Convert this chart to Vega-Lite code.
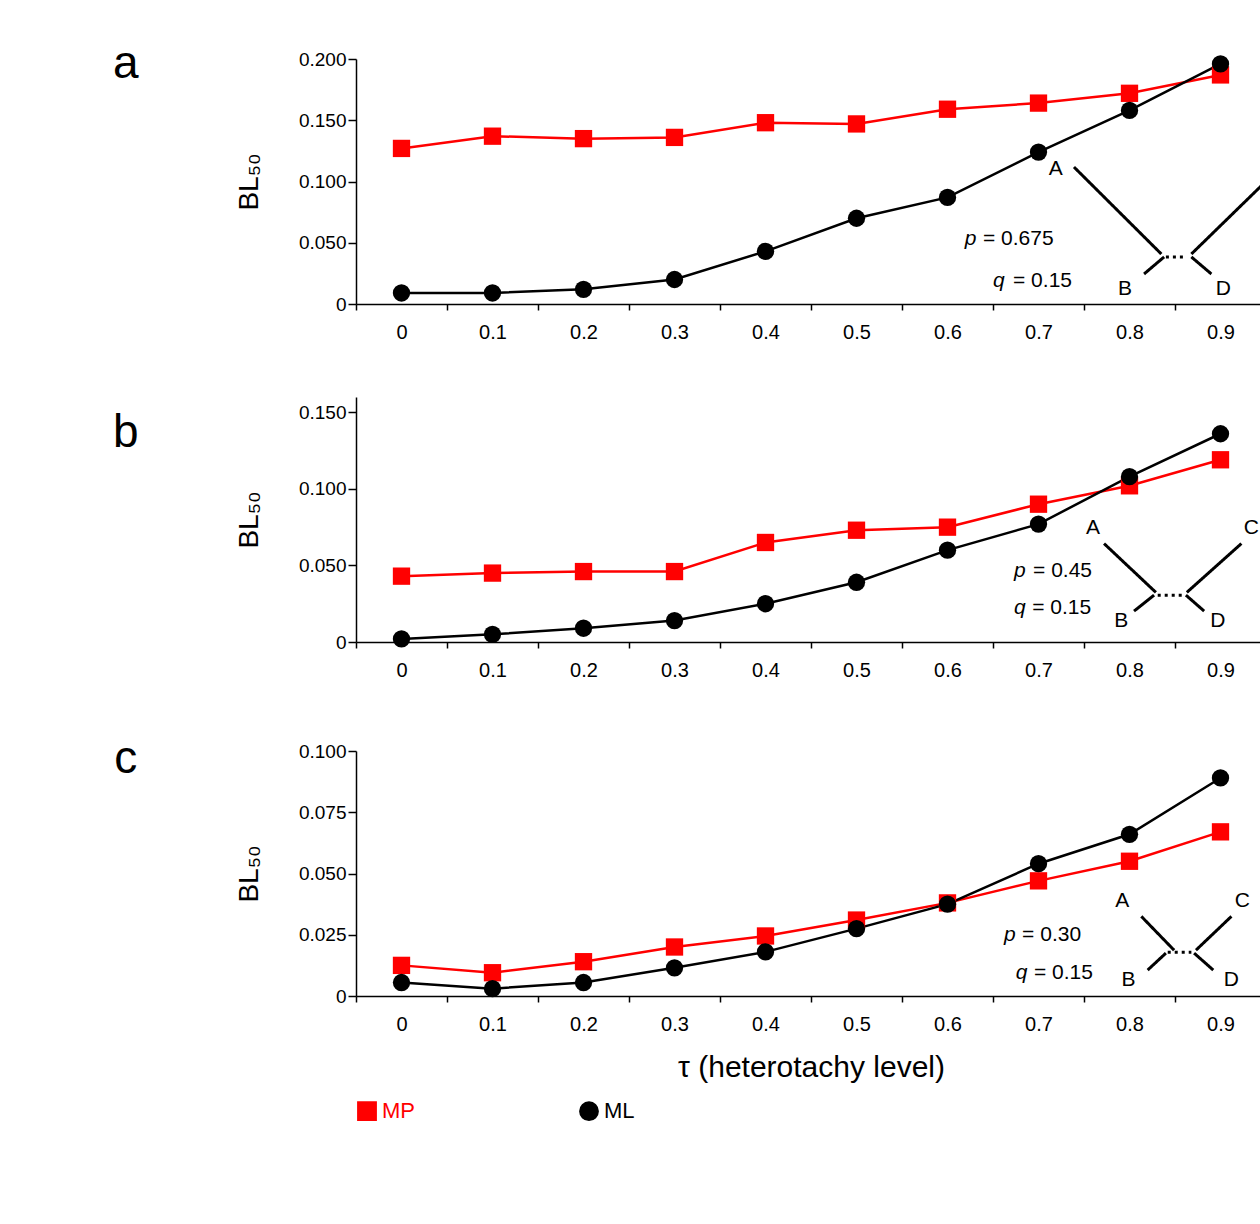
{
  "$schema": "https://vega.github.io/schema/vega-lite/v6.json",
  "background": "white",
  "padding": {"left": 112, "top": 40, "right": 60, "bottom": 10},
  "config": {
    "font": "Liberation Sans",
    "view": {"stroke": null},
    "axis": {"labelFont": "Liberation Sans", "titleFont": "Liberation Sans", "titleFontWeight": "normal", "domainColor": "black", "tickColor": "black", "labelColor": "black", "titleColor": "black", "grid": false, "domainWidth": 1.5, "tickWidth": 1.5},
    "legend": {"orient": "bottom", "direction": "horizontal", "title": null, "labelFontSize": 22, "symbolSize": 300, "columnPadding": 160, "symbolStrokeWidth": 2.5, "labelFont": "Liberation Sans"},
    "concat": {"spacing": 55}
  },
  "datasets": {
    "pts": [
      {"p": "a", "tau": 0, "s": "MP", "v": 0.127}, {"p": "a", "tau": 0.1, "s": "MP", "v": 0.137}, {"p": "a", "tau": 0.2, "s": "MP", "v": 0.135}, {"p": "a", "tau": 0.3, "s": "MP", "v": 0.136}, {"p": "a", "tau": 0.4, "s": "MP", "v": 0.148}, {"p": "a", "tau": 0.5, "s": "MP", "v": 0.147}, {"p": "a", "tau": 0.6, "s": "MP", "v": 0.159}, {"p": "a", "tau": 0.7, "s": "MP", "v": 0.164}, {"p": "a", "tau": 0.8, "s": "MP", "v": 0.172}, {"p": "a", "tau": 0.9, "s": "MP", "v": 0.187},
      {"p": "a", "tau": 0, "s": "ML", "v": 0.009}, {"p": "a", "tau": 0.1, "s": "ML", "v": 0.009}, {"p": "a", "tau": 0.2, "s": "ML", "v": 0.012}, {"p": "a", "tau": 0.3, "s": "ML", "v": 0.020}, {"p": "a", "tau": 0.4, "s": "ML", "v": 0.043}, {"p": "a", "tau": 0.5, "s": "ML", "v": 0.070}, {"p": "a", "tau": 0.6, "s": "ML", "v": 0.087}, {"p": "a", "tau": 0.7, "s": "ML", "v": 0.124}, {"p": "a", "tau": 0.8, "s": "ML", "v": 0.158}, {"p": "a", "tau": 0.9, "s": "ML", "v": 0.196},
      {"p": "b", "tau": 0, "s": "MP", "v": 0.043}, {"p": "b", "tau": 0.1, "s": "MP", "v": 0.045}, {"p": "b", "tau": 0.2, "s": "MP", "v": 0.046}, {"p": "b", "tau": 0.3, "s": "MP", "v": 0.046}, {"p": "b", "tau": 0.4, "s": "MP", "v": 0.065}, {"p": "b", "tau": 0.5, "s": "MP", "v": 0.073}, {"p": "b", "tau": 0.6, "s": "MP", "v": 0.075}, {"p": "b", "tau": 0.7, "s": "MP", "v": 0.090}, {"p": "b", "tau": 0.8, "s": "MP", "v": 0.102}, {"p": "b", "tau": 0.9, "s": "MP", "v": 0.119},
      {"p": "b", "tau": 0, "s": "ML", "v": 0.002}, {"p": "b", "tau": 0.1, "s": "ML", "v": 0.005}, {"p": "b", "tau": 0.2, "s": "ML", "v": 0.009}, {"p": "b", "tau": 0.3, "s": "ML", "v": 0.014}, {"p": "b", "tau": 0.4, "s": "ML", "v": 0.025}, {"p": "b", "tau": 0.5, "s": "ML", "v": 0.039}, {"p": "b", "tau": 0.6, "s": "ML", "v": 0.060}, {"p": "b", "tau": 0.7, "s": "ML", "v": 0.077}, {"p": "b", "tau": 0.8, "s": "ML", "v": 0.108}, {"p": "b", "tau": 0.9, "s": "ML", "v": 0.136},
      {"p": "c", "tau": 0, "s": "MP", "v": 0.0125}, {"p": "c", "tau": 0.1, "s": "MP", "v": 0.0095}, {"p": "c", "tau": 0.2, "s": "MP", "v": 0.014}, {"p": "c", "tau": 0.3, "s": "MP", "v": 0.020}, {"p": "c", "tau": 0.4, "s": "MP", "v": 0.0245}, {"p": "c", "tau": 0.5, "s": "MP", "v": 0.031}, {"p": "c", "tau": 0.6, "s": "MP", "v": 0.038}, {"p": "c", "tau": 0.7, "s": "MP", "v": 0.047}, {"p": "c", "tau": 0.8, "s": "MP", "v": 0.055}, {"p": "c", "tau": 0.9, "s": "MP", "v": 0.067},
      {"p": "c", "tau": 0, "s": "ML", "v": 0.0055}, {"p": "c", "tau": 0.1, "s": "ML", "v": 0.003}, {"p": "c", "tau": 0.2, "s": "ML", "v": 0.0055}, {"p": "c", "tau": 0.3, "s": "ML", "v": 0.0115}, {"p": "c", "tau": 0.4, "s": "ML", "v": 0.018}, {"p": "c", "tau": 0.5, "s": "ML", "v": 0.0275}, {"p": "c", "tau": 0.6, "s": "ML", "v": 0.0375}, {"p": "c", "tau": 0.7, "s": "ML", "v": 0.054}, {"p": "c", "tau": 0.8, "s": "ML", "v": 0.066}, {"p": "c", "tau": 0.9, "s": "ML", "v": 0.089}
    ],
    "tree": [
      {"p": "a", "x": 0.739, "y": 0.1118, "x2": 0.835, "y2": 0.0408, "d": "s"},
      {"p": "a", "x": 0.966, "y": 0.1118, "x2": 0.868, "y2": 0.0408, "d": "s"},
      {"p": "a", "x": 0.816, "y": 0.0245, "x2": 0.838, "y2": 0.0384, "d": "s"},
      {"p": "a", "x": 0.868, "y": 0.0384, "x2": 0.890, "y2": 0.0245, "d": "s"},
      {"p": "a", "x": 0.840, "y": 0.0384, "x2": 0.862, "y2": 0.0384, "d": "d"},
      {"p": "b", "x": 0.772, "y": 0.0643, "x2": 0.829, "y2": 0.0324, "d": "s"},
      {"p": "b", "x": 0.923, "y": 0.0643, "x2": 0.863, "y2": 0.0324, "d": "s"},
      {"p": "b", "x": 0.805, "y": 0.0202, "x2": 0.827, "y2": 0.0306, "d": "s"},
      {"p": "b", "x": 0.862, "y": 0.0306, "x2": 0.882, "y2": 0.0202, "d": "s"},
      {"p": "b", "x": 0.831, "y": 0.0306, "x2": 0.859, "y2": 0.0306, "d": "d"},
      {"p": "c", "x": 0.813, "y": 0.0325, "x2": 0.849, "y2": 0.0187, "d": "s"},
      {"p": "c", "x": 0.912, "y": 0.0325, "x2": 0.873, "y2": 0.0187, "d": "s"},
      {"p": "c", "x": 0.820, "y": 0.0106, "x2": 0.840, "y2": 0.0175, "d": "s"},
      {"p": "c", "x": 0.871, "y": 0.0175, "x2": 0.892, "y2": 0.0106, "d": "s"},
      {"p": "c", "x": 0.842, "y": 0.0179, "x2": 0.868, "y2": 0.0179, "d": "d"}
    ],
    "labels": [
      {"p": "a", "x": -0.303, "y": 0.196, "t": "a", "k": "big"},
      {"p": "a", "x": 0.719, "y": 0.110, "t": "A", "k": "n"}, {"p": "a", "x": 0.985, "y": 0.117, "t": "C", "k": "n"},
      {"p": "a", "x": 0.795, "y": 0.012, "t": "B", "k": "n"}, {"p": "a", "x": 0.903, "y": 0.012, "t": "D", "k": "n"},
      {"p": "a", "x": 0.619, "y": 0.053, "t": "p", "k": "i"}, {"p": "a", "x": 0.639, "y": 0.053, "t": "= 0.675", "k": "l"},
      {"p": "a", "x": 0.650, "y": 0.019, "t": "q", "k": "i"}, {"p": "a", "x": 0.672, "y": 0.019, "t": "= 0.15", "k": "l"},
      {"p": "b", "x": -0.303, "y": 0.1367, "t": "b", "k": "big"},
      {"p": "b", "x": 0.760, "y": 0.0747, "t": "A", "k": "n"}, {"p": "b", "x": 0.934, "y": 0.0747, "t": "C", "k": "n"},
      {"p": "b", "x": 0.791, "y": 0.0135, "t": "B", "k": "n"}, {"p": "b", "x": 0.897, "y": 0.0135, "t": "D", "k": "n"},
      {"p": "b", "x": 0.673, "y": 0.0465, "t": "p", "k": "i"}, {"p": "b", "x": 0.694, "y": 0.0465, "t": "= 0.45", "k": "l"},
      {"p": "b", "x": 0.673, "y": 0.022, "t": "q", "k": "i"}, {"p": "b", "x": 0.693, "y": 0.022, "t": "= 0.15", "k": "l"},
      {"p": "c", "x": -0.303, "y": 0.0968, "t": "c", "k": "big"},
      {"p": "c", "x": 0.792, "y": 0.0386, "t": "A", "k": "n"}, {"p": "c", "x": 0.924, "y": 0.0386, "t": "C", "k": "n"},
      {"p": "c", "x": 0.799, "y": 0.0065, "t": "B", "k": "n"}, {"p": "c", "x": 0.912, "y": 0.0065, "t": "D", "k": "n"},
      {"p": "c", "x": 0.662, "y": 0.0248, "t": "p", "k": "i"}, {"p": "c", "x": 0.682, "y": 0.0248, "t": "= 0.30", "k": "l"},
      {"p": "c", "x": 0.675, "y": 0.0093, "t": "q", "k": "i"}, {"p": "c", "x": 0.695, "y": 0.0093, "t": "= 0.15", "k": "l"}
    ]
  },
  "vconcat": [
    {
      "width": 910, "height": 245,
      "layer": [
        {
          "data": {"name": "pts"}, "transform": [{"filter": "datum.p == 'a'"}],
          "mark": {"type": "line", "strokeWidth": 2.5},
          "encoding": {
            "x": {"field": "tau", "type": "quantitative", "scale": {"domain": [-0.05, 0.95], "nice": false, "zero": false}, "axis": {"title": null, "values": [-0.05, 0.05, 0.15, 0.25, 0.35, 0.45, 0.55, 0.65, 0.75, 0.85, 0.95], "labelExpr": "datum.value > 0.9 ? '' : '' + (round((datum.value + 0.05) * 10) / 10)", "labelOffset": 45.5, "labelFlush": false, "labelOverlap": false, "labelFontSize": 20, "labelPadding": 12, "tickSize": 6}},
            "y": {"field": "v", "type": "quantitative", "scale": {"domain": [0, 0.2]}, "axis": {"values": [0, 0.05, 0.1, 0.15, 0.2], "labelExpr": "datum.value == 0 ? '0' : format(datum.value, '.3f')", "labelFontSize": 19, "title": "BL₅₀", "titleFontSize": 28, "titlePadding": 35, "tickSize": 8}},
            "color": {"field": "s", "type": "nominal", "scale": {"domain": ["MP", "ML"], "range": ["#ff0000", "#000000"]}},
            "shape": {"field": "s", "type": "nominal", "scale": {"domain": ["MP", "ML"], "range": ["square", "circle"]}}
          }
        },
        {
          "data": {"name": "pts"}, "transform": [{"filter": "datum.p == 'a'"}],
          "mark": {"type": "point", "filled": true, "size": 300, "opacity": 1},
          "encoding": {"x": {"field": "tau", "type": "quantitative"}, "y": {"field": "v", "type": "quantitative"}, "color": {"field": "s", "type": "nominal"}, "shape": {"field": "s", "type": "nominal"}}
        },
        {
          "data": {"name": "tree"}, "transform": [{"filter": "datum.p == 'a'"}],
          "mark": {"type": "rule", "strokeWidth": 3, "color": "black", "clip": false},
          "encoding": {
            "x": {"field": "x", "type": "quantitative"}, "y": {"field": "y", "type": "quantitative"},
            "x2": {"field": "x2"}, "y2": {"field": "y2"},
            "strokeDash": {"field": "d", "type": "nominal", "scale": {"domain": ["s", "d"], "range": [[1, 0], [3, 4]]}, "legend": null}
          }
        },
        {
          "data": {"name": "labels"}, "transform": [{"filter": "datum.p == 'a' && datum.k == 'n'"}],
          "mark": {"type": "text", "fontSize": 21, "clip": false},
          "encoding": {"x": {"field": "x", "type": "quantitative"}, "y": {"field": "y", "type": "quantitative"}, "text": {"field": "t"}}
        },
        {
          "data": {"name": "labels"}, "transform": [{"filter": "datum.p == 'a' && datum.k == 'i'"}],
          "mark": {"type": "text", "fontSize": 21, "fontStyle": "italic", "align": "left"},
          "encoding": {"x": {"field": "x", "type": "quantitative"}, "y": {"field": "y", "type": "quantitative"}, "text": {"field": "t"}}
        },
        {
          "data": {"name": "labels"}, "transform": [{"filter": "datum.p == 'a' && datum.k == 'l'"}],
          "mark": {"type": "text", "fontSize": 21, "align": "left"},
          "encoding": {"x": {"field": "x", "type": "quantitative"}, "y": {"field": "y", "type": "quantitative"}, "text": {"field": "t"}}
        },
        {
          "data": {"name": "labels"}, "transform": [{"filter": "datum.p == 'a' && datum.k == 'big'"}],
          "mark": {"type": "text", "fontSize": 46, "clip": false},
          "encoding": {"x": {"field": "x", "type": "quantitative"}, "y": {"field": "y", "type": "quantitative"}, "text": {"field": "t"}}
        }
      ]
    },
    {
      "width": 910, "height": 245,
      "layer": [
        {
          "data": {"name": "pts"}, "transform": [{"filter": "datum.p == 'b'"}],
          "mark": {"type": "line", "strokeWidth": 2.5},
          "encoding": {
            "x": {"field": "tau", "type": "quantitative", "scale": {"domain": [-0.05, 0.95], "nice": false, "zero": false}, "axis": {"title": null, "values": [-0.05, 0.05, 0.15, 0.25, 0.35, 0.45, 0.55, 0.65, 0.75, 0.85, 0.95], "labelExpr": "datum.value > 0.9 ? '' : '' + (round((datum.value + 0.05) * 10) / 10)", "labelOffset": 45.5, "labelFlush": false, "labelOverlap": false, "labelFontSize": 20, "labelPadding": 12, "tickSize": 6}},
            "y": {"field": "v", "type": "quantitative", "scale": {"domain": [0, 0.15]}, "axis": {"values": [0, 0.05, 0.1, 0.15], "labelExpr": "datum.value == 0 ? '0' : format(datum.value, '.3f')", "labelFontSize": 19, "title": "BL₅₀", "titleFontSize": 28, "titlePadding": 35, "tickSize": 8}},
            "color": {"field": "s", "type": "nominal", "scale": {"domain": ["MP", "ML"], "range": ["#ff0000", "#000000"]}},
            "shape": {"field": "s", "type": "nominal", "scale": {"domain": ["MP", "ML"], "range": ["square", "circle"]}}
          }
        },
        {
          "data": {"name": "pts"}, "transform": [{"filter": "datum.p == 'b'"}],
          "mark": {"type": "point", "filled": true, "size": 300, "opacity": 1},
          "encoding": {"x": {"field": "tau", "type": "quantitative"}, "y": {"field": "v", "type": "quantitative"}, "color": {"field": "s", "type": "nominal"}, "shape": {"field": "s", "type": "nominal"}}
        },
        {
          "data": {"name": "tree"}, "transform": [{"filter": "datum.p == 'b'"}],
          "mark": {"type": "rule", "strokeWidth": 3, "color": "black", "clip": false},
          "encoding": {
            "x": {"field": "x", "type": "quantitative"}, "y": {"field": "y", "type": "quantitative"},
            "x2": {"field": "x2"}, "y2": {"field": "y2"},
            "strokeDash": {"field": "d", "type": "nominal", "scale": {"domain": ["s", "d"], "range": [[1, 0], [3, 4]]}, "legend": null}
          }
        },
        {
          "data": {"name": "labels"}, "transform": [{"filter": "datum.p == 'b' && datum.k == 'n'"}],
          "mark": {"type": "text", "fontSize": 21, "clip": false},
          "encoding": {"x": {"field": "x", "type": "quantitative"}, "y": {"field": "y", "type": "quantitative"}, "text": {"field": "t"}}
        },
        {
          "data": {"name": "labels"}, "transform": [{"filter": "datum.p == 'b' && datum.k == 'i'"}],
          "mark": {"type": "text", "fontSize": 21, "fontStyle": "italic", "align": "left"},
          "encoding": {"x": {"field": "x", "type": "quantitative"}, "y": {"field": "y", "type": "quantitative"}, "text": {"field": "t"}}
        },
        {
          "data": {"name": "labels"}, "transform": [{"filter": "datum.p == 'b' && datum.k == 'l'"}],
          "mark": {"type": "text", "fontSize": 21, "align": "left"},
          "encoding": {"x": {"field": "x", "type": "quantitative"}, "y": {"field": "y", "type": "quantitative"}, "text": {"field": "t"}}
        },
        {
          "data": {"name": "labels"}, "transform": [{"filter": "datum.p == 'b' && datum.k == 'big'"}],
          "mark": {"type": "text", "fontSize": 46, "clip": false},
          "encoding": {"x": {"field": "x", "type": "quantitative"}, "y": {"field": "y", "type": "quantitative"}, "text": {"field": "t"}}
        }
      ]
    },
    {
      "width": 910, "height": 245,
      "layer": [
        {
          "data": {"name": "pts"}, "transform": [{"filter": "datum.p == 'c'"}],
          "mark": {"type": "line", "strokeWidth": 2.5},
          "encoding": {
            "x": {"field": "tau", "type": "quantitative", "scale": {"domain": [-0.05, 0.95], "nice": false, "zero": false}, "axis": {"title": "τ (heterotachy level)", "titleFontSize": 30, "titlePadding": 18, "values": [-0.05, 0.05, 0.15, 0.25, 0.35, 0.45, 0.55, 0.65, 0.75, 0.85, 0.95], "labelExpr": "datum.value > 0.9 ? '' : '' + (round((datum.value + 0.05) * 10) / 10)", "labelOffset": 45.5, "labelFlush": false, "labelOverlap": false, "labelFontSize": 20, "labelPadding": 12, "tickSize": 6}},
            "y": {"field": "v", "type": "quantitative", "scale": {"domain": [0, 0.1]}, "axis": {"values": [0, 0.025, 0.05, 0.075, 0.1], "labelExpr": "datum.value == 0 ? '0' : format(datum.value, '.3f')", "labelFontSize": 19, "title": "BL₅₀", "titleFontSize": 28, "titlePadding": 35, "tickSize": 8}},
            "color": {"field": "s", "type": "nominal", "scale": {"domain": ["MP", "ML"], "range": ["#ff0000", "#000000"]}, "legend": {"encode": {"labels": {"update": {"fill": {"signal": "datum.label == 'MP' ? '#ff0000' : '#000000'"}}}}}},
            "shape": {"field": "s", "type": "nominal", "scale": {"domain": ["MP", "ML"], "range": ["square", "circle"]}}
          }
        },
        {
          "data": {"name": "pts"}, "transform": [{"filter": "datum.p == 'c'"}],
          "mark": {"type": "point", "filled": true, "size": 300, "opacity": 1},
          "encoding": {"x": {"field": "tau", "type": "quantitative"}, "y": {"field": "v", "type": "quantitative"}, "color": {"field": "s", "type": "nominal"}, "shape": {"field": "s", "type": "nominal"}}
        },
        {
          "data": {"name": "tree"}, "transform": [{"filter": "datum.p == 'c'"}],
          "mark": {"type": "rule", "strokeWidth": 3, "color": "black", "clip": false},
          "encoding": {
            "x": {"field": "x", "type": "quantitative"}, "y": {"field": "y", "type": "quantitative"},
            "x2": {"field": "x2"}, "y2": {"field": "y2"},
            "strokeDash": {"field": "d", "type": "nominal", "scale": {"domain": ["s", "d"], "range": [[1, 0], [3, 4]]}, "legend": null}
          }
        },
        {
          "data": {"name": "labels"}, "transform": [{"filter": "datum.p == 'c' && datum.k == 'n'"}],
          "mark": {"type": "text", "fontSize": 21, "clip": false},
          "encoding": {"x": {"field": "x", "type": "quantitative"}, "y": {"field": "y", "type": "quantitative"}, "text": {"field": "t"}}
        },
        {
          "data": {"name": "labels"}, "transform": [{"filter": "datum.p == 'c' && datum.k == 'i'"}],
          "mark": {"type": "text", "fontSize": 21, "fontStyle": "italic", "align": "left"},
          "encoding": {"x": {"field": "x", "type": "quantitative"}, "y": {"field": "y", "type": "quantitative"}, "text": {"field": "t"}}
        },
        {
          "data": {"name": "labels"}, "transform": [{"filter": "datum.p == 'c' && datum.k == 'l'"}],
          "mark": {"type": "text", "fontSize": 21, "align": "left"},
          "encoding": {"x": {"field": "x", "type": "quantitative"}, "y": {"field": "y", "type": "quantitative"}, "text": {"field": "t"}}
        },
        {
          "data": {"name": "labels"}, "transform": [{"filter": "datum.p == 'c' && datum.k == 'big'"}],
          "mark": {"type": "text", "fontSize": 46, "clip": false},
          "encoding": {"x": {"field": "x", "type": "quantitative"}, "y": {"field": "y", "type": "quantitative"}, "text": {"field": "t"}}
        }
      ]
    }
  ]
}
